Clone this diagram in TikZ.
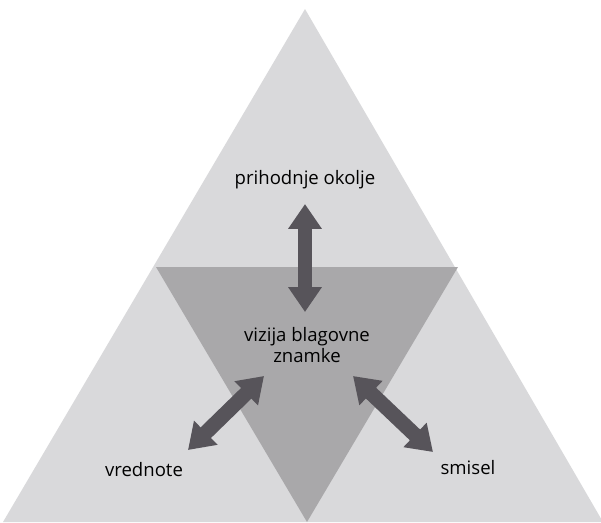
\documentclass[tikz,border=0pt]{standalone}
\usepackage{fontspec}
\setmainfont{Open Sans}
\usetikzlibrary{arrows.meta,positioning}
\definecolor{outergray}{HTML}{D9D9DB}
\definecolor{innergray}{HTML}{A9A8AA}
\definecolor{arrowgray}{HTML}{57545A}
\tikzset{
 dblarrow/.style={draw=arrowgray,line width=0.37cm,
  {Triangle[length=0.62cm,width=0.8cm]}-{Triangle[length=0.62cm,width=0.8cm]}},
 label/.style={inner sep=1pt,align=center,text=black,font=\fontsize{13.2}{14.6}\selectfont}
}
\begin{document}
\begin{tikzpicture}[x=0.025cm,y=-0.025cm]
\useasboundingbox (0,0) rectangle (601,522);
\fill[outergray] (305,9) -- (603,522) -- (3,522) -- cycle;
\fill[innergray] (156,267) -- (458,267) -- (307,522) -- cycle;
\node[label] (future) at (305,180) {prihodnje okolje};
\node[label] (vision) at (307,345) {vizija blagovne\\znamke};
\node[label] (values) at (144,470) {vrednote};
\node[label] (meaning) at (468,468) {smisel};
\coordinate (futtip) at (305,204);
\coordinate (futbase) at (305,312);
\coordinate (valtip) at (264,376);
\coordinate (valbase) at (188,450);
\coordinate (meantip) at (353,376);
\coordinate (meanbase) at (433,452);
\draw[dblarrow] (futtip) -- (futbase);
\draw[dblarrow] (valtip) -- (valbase);
\draw[dblarrow] (meantip) -- (meanbase);
\end{tikzpicture}
\end{document}
